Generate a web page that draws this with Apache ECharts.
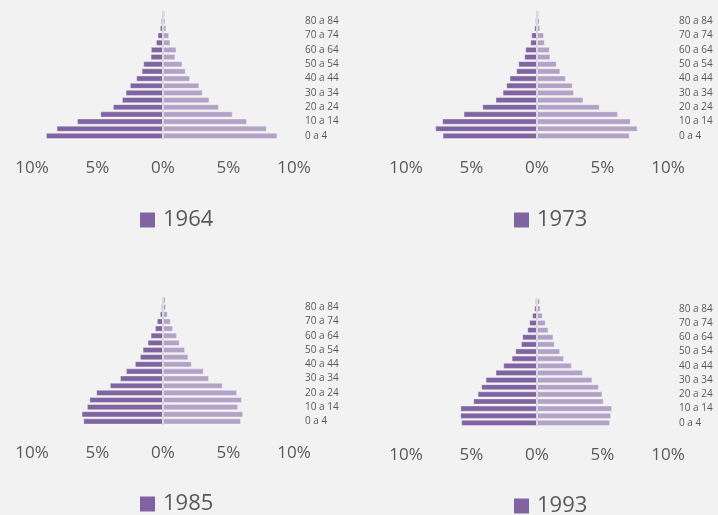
<!DOCTYPE html>
<html>
<head>
<meta charset="utf-8">
<script src="https://cdn.jsdelivr.net/npm/echarts@6/dist/echarts.min.js"></script>
<style>
  html, body { margin: 0; padding: 0; background: #f2f2f2; }
  #chart { width: 718px; height: 515px; }
</style>
</head>
<body>
<div id="chart"></div>
<script>
// faixas etárias, de baixo para cima
const ageGroups = ['0 a 4', '5 a 9', '10 a 14', '15 a 19', '20 a 24', '25 a 29', '30 a 34', '35 a 39',
  '40 a 44', '45 a 49', '50 a 54', '55 a 59', '60 a 64', '65 a 69', '70 a 74', '75 a 79', '80 a 84', '85 e +']

const years = ['1964', '1973', '1985', '1993']
const xTicks = [-10, -5, 0, 5, 10]

// % da população (esquerda = homens, direita = mulheres)
const men1964 = [8.93, 8.12, 6.56, 4.78, 3.82, 3.13, 2.85, 2.52, 2.04, 1.63, 1.50, 0.94, 0.92, 0.53, 0.41, 0.23, 0.15, 0.08]
const women1964 = [8.73, 7.91, 6.41, 5.32, 4.27, 3.54, 3.03, 2.77, 2.06, 1.73, 1.48, 0.94, 1.02, 0.56, 0.46, 0.25, 0.18, 0.15]
const men1973 = [7.20, 7.76, 7.23, 5.60, 4.17, 3.16, 2.62, 2.34, 2.09, 1.58, 1.42, 0.97, 0.89, 0.51, 0.43, 0.20, 0.13, 0.05]
const women1973 = [7.07, 7.68, 7.15, 6.18, 4.78, 3.54, 2.82, 2.72, 2.19, 1.78, 1.50, 1.02, 0.97, 0.59, 0.53, 0.25, 0.20, 0.15]
const men1985 = [6.08, 6.21, 5.80, 5.62, 5.09, 4.05, 3.28, 2.82, 2.14, 1.76, 1.55, 1.17, 0.94, 0.61, 0.46, 0.23, 0.13, 0.05]
const women1985 = [5.95, 6.11, 5.73, 6.03, 5.65, 4.55, 3.51, 3.10, 2.19, 1.93, 1.68, 1.27, 1.07, 0.76, 0.59, 0.36, 0.23, 0.20]
const men1993 = [5.78, 5.85, 5.85, 4.86, 4.53, 4.25, 3.92, 3.16, 2.57, 1.93, 1.65, 1.22, 1.12, 0.74, 0.59, 0.36, 0.20, 0.13]
const women1993 = [5.57, 5.65, 5.73, 5.09, 4.99, 4.73, 4.22, 3.51, 2.65, 2.06, 1.76, 1.35, 1.25, 0.87, 0.66, 0.43, 0.28, 0.23]

const menData = [men1964, men1973, men1985, men1993]
const womenData = [women1964, women1973, women1985, women1993]

const FONT = '"Open Sans", "Segoe UI", sans-serif'
const TEXT = '#595959'
const DARK = '#8064a2'
const LIGHT = '#b3a2c7'

// posição de cada pirâmide
const panels = [
  { left: 32, top: 10.5, height: 129, legendLeft: 135, legendTop: 204 },
  { left: 406, top: 10.5, height: 129, legendLeft: 509, legendTop: 204 },
  { left: 32, top: 296.5, height: 128.5, legendLeft: 135, legendTop: 488 },
  { left: 406, top: 298, height: 128.5, legendLeft: 509, legendTop: 490 },
]

const grid = [], xAxis = [], yAxis = [], series = [], legend = []

panels.forEach((p, i) => {
  grid.push({ left: p.left, top: p.top, width: 262, height: p.height })
  xAxis.push({
    gridIndex: i,
    type: 'value',
    min: xTicks[0],
    max: xTicks[xTicks.length - 1],
    interval: 5,
    axisLine: { show: false },
    axisTick: { show: false },
    splitLine: { show: false },
    axisLabel: {
      margin: 20,
      color: TEXT,
      fontSize: 17,
      fontFamily: FONT,
      formatter: v => Math.abs(v) + '%',
    },
  })
  yAxis.push({
    gridIndex: i,
    type: 'category',
    data: ageGroups,
    position: 'right',
    axisLine: { show: false },
    axisTick: { show: false },
    axisLabel: {
      interval: 1,
      margin: 11,
      align: 'left',
      color: TEXT,
      fontSize: 10,
      fontFamily: FONT,
    },
  })
  series.push({
    name: years[i],
    type: 'bar',
    xAxisIndex: i,
    yAxisIndex: i,
    data: menData[i].map(v => -v),
    barGap: '-100%',
    barCategoryGap: '16%',
    itemStyle: { color: DARK, borderColor: 'rgba(255,255,255,0.45)', borderWidth: 0.8 },
    silent: true,
    markLine: {
      silent: true,
      symbol: 'none',
      label: { show: false },
      lineStyle: { color: '#d9d9d9', width: 2, type: 'solid' },
      data: [{ xAxis: 0 }],
    },
    z: 2,
  })
  series.push({
    name: years[i] + ' ',
    type: 'bar',
    xAxisIndex: i,
    yAxisIndex: i,
    data: womenData[i],
    barGap: '-100%',
    barCategoryGap: '16%',
    itemStyle: { color: LIGHT, borderColor: 'rgba(255,255,255,0.45)', borderWidth: 0.8 },
    silent: true,
    z: 2,
  })
  legend.push({
    data: [years[i]],
    left: p.legendLeft,
    top: p.legendTop,
    icon: 'rect',
    itemWidth: 15,
    itemHeight: 15,
    selectedMode: false,
    itemStyle: { borderWidth: 0 },
    textStyle: { color: TEXT, fontSize: 22, fontFamily: FONT, padding: [0, 0, 0, 3] },
  })
})

const chart = echarts.init(document.getElementById('chart'))
chart.setOption({
  backgroundColor: '#f2f2f2',
  animation: false,
  grid, xAxis, yAxis, series, legend,
})
</script>
</body>
</html>
